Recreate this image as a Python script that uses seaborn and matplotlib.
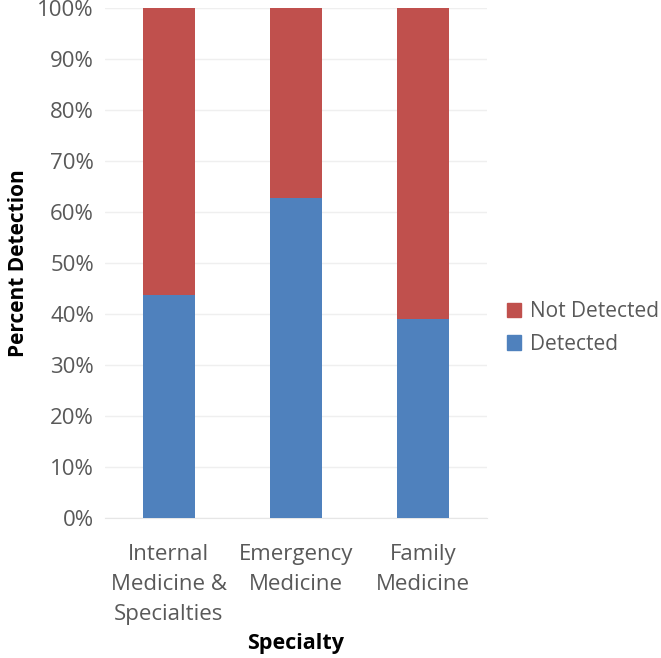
import numpy as np
import pandas as pd
import matplotlib
matplotlib.use("Agg")
import matplotlib.pyplot as plt
import seaborn as sns
from matplotlib.patches import Patch
from matplotlib.ticker import PercentFormatter

specialties = ['Internal\nMedicine &\nSpecialties', 'Emergency\nMedicine', 'Family\nMedicine']
detected = [43.8, 62.7, 39.0]
not_detected = [56.2, 37.3, 61.0]

blue = '#4F81BD'
red = '#C0504D'
grey_text = '#595959'

sns.set_style('white')
plt.rcParams['font.family'] = ['Open Sans', 'DejaVu Sans']

df = pd.DataFrame({'specialty': specialties,
                   'detected': detected,
                   'not_detected': not_detected})
df['total'] = df['detected'] + df['not_detected']

fig = plt.figure(figsize=(6.61, 6.58), dpi=100)
ax = fig.add_axes([105 / 661, 1 - 518 / 658, 382 / 661, 510 / 658])

# stacked bars: full height in red, detected part in blue over it
sns.barplot(data=df, x='specialty', y='total', color=red, width=0.41,
            saturation=1, linewidth=0, ax=ax, zorder=2)
sns.barplot(data=df, x='specialty', y='detected', color=blue, width=0.41,
            saturation=1, linewidth=0, ax=ax, zorder=3)

ax.set_ylim(0, 100)
ax.set_xlim(-0.5, 2.5)
ax.set_yticks(np.arange(0, 101, 10))
ax.yaxis.set_major_formatter(PercentFormatter(decimals=0))
ax.grid(axis='y', color='#EFEFEF', linewidth=1, zorder=0)
for s in ['top', 'right', 'left']:
    ax.spines[s].set_visible(False)
ax.spines['bottom'].set_color('#E6E6E6')
ax.tick_params(axis='both', length=0, labelsize=16, labelcolor=grey_text)
ax.tick_params(axis='x', pad=19)
ax.tick_params(axis='y', pad=8)
for lab in ax.get_xticklabels():
    lab.set_linespacing(1.55)

ax.set_xlabel('Specialty', fontsize=15.5, fontweight='bold', color='black', labelpad=6)
ax.set_ylabel('Percent Detection', fontsize=15, fontweight='bold', color='black', labelpad=6)

handles = [Patch(color=red, label='Not Detected'), Patch(color=blue, label='Detected')]
fig.legend(handles=handles, loc='center left', bbox_to_anchor=(488 / 661, 1 - 328 / 658),
           frameon=False, fontsize=15, labelcolor=grey_text, handlelength=0.7,
           handleheight=0.7, handletextpad=0.4, labelspacing=0.55)

fig.savefig('out.png', dpi=100)
